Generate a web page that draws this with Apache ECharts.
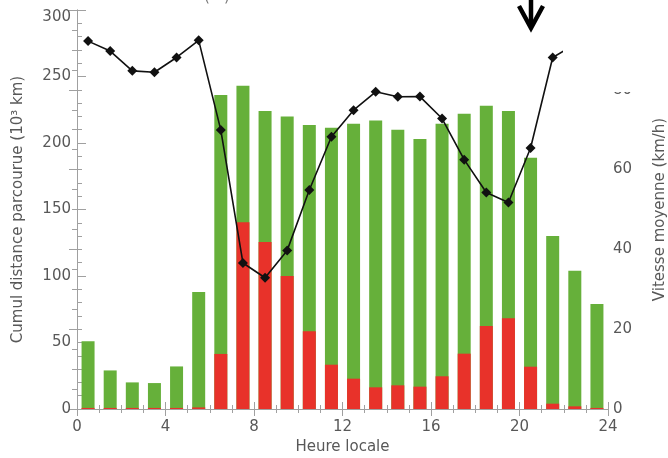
<!DOCTYPE html>
<html>
<head>
<meta charset="utf-8">
<script src="https://cdn.jsdelivr.net/npm/echarts@6/dist/echarts.min.js"></script>
<style>html,body{margin:0;padding:0;background:#fff}#c{width:668px;height:458px}</style>
</head>
<body>
<div id="c"></div>
<script>
// Data
const hourCenters = [0.5,1.5,2.5,3.5,4.5,5.5,6.5,7.5,8.5,9.5,10.5,11.5,12.5,13.5,14.5,15.5,16.5,17.5,18.5,19.5,20.5,21.5,22.5,23.5];
const totalDistance = [51,29,20,19.5,32,88,236,243,224,220,213.5,211.5,214.5,217,210,203,214.5,222,228,224,189,130,104,79];
const redDistance = [0.8,0.8,0.8,0.8,0.8,1.2,41.4,140.4,125.5,100,58.4,33.3,22.8,16.3,17.8,16.8,24.6,41.6,62.4,68.2,31.8,4,2,0.8];
const meanSpeed = [92.2,89.7,84.75,84.4,88.1,92.4,69.9,36.6,32.9,39.75,54.9,68.25,74.9,79.5,78.25,78.3,72.8,62.5,54.25,51.75,65.4,88.1,91.4,92];
const xTicks = [0,4,8,12,16,20,24];

const FONT = 'DejaVu Sans';
const LBL = '#585858';
const AX = '#a0a0a0';

const greenData = hourCenters.map((h,i)=>[h, totalDistance[i]]);
const redData = hourCenters.map((h,i)=>[h, redDistance[i]]);
const lineData = hourCenters.map((h,i)=>[h, meanSpeed[i]]);

const chart = echarts.init(document.getElementById('c'), null, {renderer:'canvas'});
const xBase = {
  type:'value', min:xTicks[0], max:xTicks[xTicks.length-1], interval:4,
  axisLine:{show:true, lineStyle:{color:AX, width:1}},
  axisTick:{show:true, inside:true, length:7, lineStyle:{color:AX}},
  minorTick:{show:true, splitNumber:4, length:4, lineStyle:{color:AX}},
  splitLine:{show:false}, minorSplitLine:{show:false}
};
chart.setOption({
  animation:false,
  backgroundColor:'#fff',
  grid:{left:77, right:60, top:10, bottom:49, containLabel:false, outerBoundsMode:'none'},
  xAxis:[
    Object.assign({}, xBase, {
      position:'bottom',
      name:'Heure locale', nameLocation:'middle', nameGap:31,
      nameTextStyle:{fontFamily:FONT, fontSize:15, color:LBL},
      axisLabel:{fontFamily:FONT, fontSize:15, color:LBL, margin:11}
    }),
    Object.assign({}, xBase, {position:'top', axisLabel:{show:false}})
  ],
  yAxis:[
    {
      type:'value', min:0, max:300, interval:50, position:'left',
      name:'Cumul distance parcourue (10\u00B3 km)', nameLocation:'middle', nameGap:51, nameRotate:90,
      nameTextStyle:{fontFamily:FONT, fontSize:15, color:LBL},
      axisLine:{show:true, lineStyle:{color:AX}},
      axisTick:{show:true, inside:true, length:9, lineStyle:{color:AX}},
      minorTick:{show:true, splitNumber:5, length:5, lineStyle:{color:AX}},
      splitLine:{show:false},
      axisLabel:{fontFamily:FONT, fontSize:15, color:LBL, margin:6, verticalAlignMaxLabel:'top'}
    },
    {
      type:'value', min:0, max:100, interval:20, position:'right',
      name:'Vitesse moyenne (km/h)', nameLocation:'middle', nameGap:44, nameRotate:90,
      nameTextStyle:{fontFamily:FONT, fontSize:15, color:LBL},
      axisLine:{show:true, lineStyle:{color:AX}},
      axisTick:{show:true, inside:true, length:8, lineStyle:{color:AX}},
      minorTick:{show:true, splitNumber:4, length:5, lineStyle:{color:AX}},
      splitLine:{show:false},
      axisLabel:{fontFamily:FONT, fontSize:15, color:LBL, margin:5}
    }
  ],
  series:[
    {type:'bar', name:'green', xAxisIndex:0, yAxisIndex:0, data:greenData, barWidth:13, barGap:'-100%',
      itemStyle:{color:'#66b03a'}, z:2},
    {type:'bar', name:'red', xAxisIndex:0, yAxisIndex:0, data:redData, barWidth:13, barGap:'-100%',
      itemStyle:{color:'#e8322a'}, z:3},
    {type:'line', name:'speed', xAxisIndex:0, yAxisIndex:1, data:lineData,
      symbol:'diamond', symbolSize:10, showSymbol:true,
      lineStyle:{color:'#111', width:1.6}, itemStyle:{color:'#111'}, z:5}
  ],
  graphic:[
    {type:'rect', shape:{x:563, y:0, width:105, height:92}, style:{fill:'#fff'}, z:100},
    {type:'text', x:204, y:-10, style:{text:'(', font:'15px "DejaVu Sans"', fill:'#777'}, z:101},
    {type:'text', x:224, y:-10, style:{text:')', font:'15px "DejaVu Sans"', fill:'#777'}, z:101},
    {type:'line', shape:{x1:531, y1:0, x2:531, y2:26}, style:{stroke:'#000', lineWidth:4.5}, z:102},
    {type:'polyline', shape:{points:[[519,6],[531,28],[543,6]]}, style:{stroke:'#000', lineWidth:4.5, fill:null, lineJoin:'miter'}, z:102}
  ]
});
</script>
</body>
</html>
